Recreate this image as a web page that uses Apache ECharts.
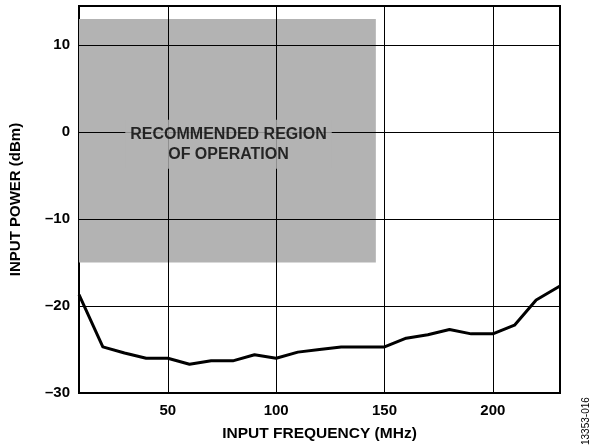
<!DOCTYPE html>
<html>
<head>
<meta charset="utf-8">
<script src="https://cdn.jsdelivr.net/npm/echarts@6/dist/echarts.min.js"></script>
<style>
html,body{margin:0;padding:0;background:#fff;}
#chart{width:593px;height:448px;}
</style>
</head>
<body>
<div id="chart"></div>
<script>
// Data
const frequencyMHz = [9, 20, 30, 40, 50, 60, 70, 80, 90, 100, 110, 120, 130, 140, 150, 160, 170, 180, 190, 200, 210, 220, 231];
const inputPowerDbm = [-18.7, -24.7, -25.4, -26.0, -26.0, -26.7, -26.3, -26.3, -25.6, -26.0, -25.3, -25.0, -24.7, -24.7, -24.7, -23.7, -23.3, -22.7, -23.2, -23.2, -22.2, -19.3, -17.7];
const xTickValues = [50, 100, 150, 200];
const yTickValues = [-30, -20, -10, 0, 10];
const xGridValues = [50, 100, 150, 200];
const yGridValues = [-20, -10, 0, 10];
const regionX = [9, 146];
const regionY = [-15, 13];
const regionLabelAt = [78, -1.4];
const regionLabelText = 'RECOMMENDED REGION\nOF OPERATION';
const xTitle = 'INPUT FREQUENCY (MHz)';
const yTitle = 'INPUT POWER (dBm)';
const figureId = '13353-016';

const FONT = '"Liberation Sans", Arial, Helvetica, sans-serif';
const chart = echarts.init(document.getElementById('chart'), null, {renderer: 'canvas'});

const option = {
  animation: false,
  backgroundColor: '#fff',
  grid: {left: 78, right: 33, top: 6, bottom: 55, show: true, borderColor: '#000', borderWidth: 2, backgroundColor: 'transparent'},
  xAxis: {
    type: 'value', min: 9, max: 231,
    axisLine: {show: false}, axisTick: {show: false}, splitLine: {show: false},
    axisLabel: {customValues: xTickValues, color: '#000', fontFamily: FONT, fontWeight: 'bold', fontSize: 15, margin: 10},
    name: xTitle, nameLocation: 'middle', nameGap: 33,
    nameTextStyle: {color: '#000', fontFamily: FONT, fontWeight: 'bold', fontSize: 15.5}
  },
  yAxis: {
    type: 'value', min: -30, max: 14.5,
    axisLine: {show: false}, axisTick: {show: false}, splitLine: {show: false},
    axisLabel: {customValues: yTickValues, color: '#000', fontFamily: FONT, fontWeight: 'bold', fontSize: 15, margin: 9,
      formatter: v => String(v).replace('-', '\u2013')},
    name: yTitle, nameLocation: 'middle', nameGap: 56,
    nameTextStyle: {color: '#000', fontFamily: FONT, fontWeight: 'bold', fontSize: 15}
  },
  graphic: [{
    type: 'text', right: 2, bottom: 3, rotation: Math.PI / 2,
    style: {text: figureId, fill: '#000', font: '10px ' + FONT}
  }],
  series: [
    {
      type: 'line', data: [], z: 1, silent: true,
      markArea: {
        silent: true, z: 1,
        itemStyle: {color: '#b3b3b3', borderWidth: 0},
        label: {show: false},
        data: [[{coord: [regionX[0], regionY[1]]}, {coord: [regionX[1], regionY[0]]}]]
      }
    },
    {
      type: 'line', data: [], z: 2, silent: true,
      markLine: {
        silent: true, symbol: 'none', animation: false, z: 2,
        label: {show: false},
        lineStyle: {color: '#000', width: 1, type: 'solid'},
        emphasis: {disabled: true},
        data: xGridValues.map(v => ({xAxis: v})).concat(yGridValues.map(v => ({yAxis: v})))
      }
    },
    {
      type: 'line', z: 3, silent: true,
      data: frequencyMHz.map((f, i) => [f, inputPowerDbm[i]]),
      showSymbol: false, symbol: 'none', smooth: false,
      lineStyle: {color: '#000', width: 3, join: 'round'}
    },
    {
      type: 'scatter', z: 10, silent: true, symbolSize: 0,
      data: [regionLabelAt],
      label: {
        show: true, position: 'inside', formatter: regionLabelText,
        color: '#000', fontFamily: FONT, fontWeight: 'bold', fontSize: 16, lineHeight: 20,
        align: 'center', backgroundColor: '#b3b3b3', padding: [5, 5, 4, 5]
      }
    }
  ]
};
chart.setOption(option);
</script>
</body>
</html>
